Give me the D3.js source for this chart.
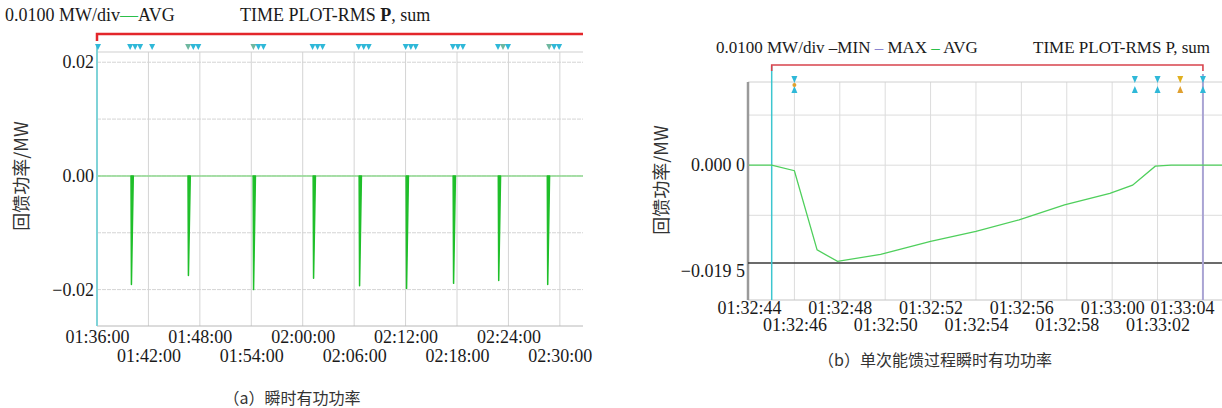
<!DOCTYPE html>
<html>
<head>
<meta charset="utf-8">
<script src="https://cdn.jsdelivr.net/npm/d3@7"></script>
<style>
  body { margin: 0; background: #fff; }
  svg { display: block; }
  .lat { font-family: "Liberation Serif", "DejaVu Serif", serif; fill: #1a1a1a; }
  .cjk { font-family: "Noto Sans CJK SC", sans-serif; fill: #333; }
</style>
</head>
<body>
<svg id="chart" width="1222" height="408"></svg>
<script>
/* global d3 */

// ---------- datos grafico (a) ----------
var ticksA = ["01:36:00","01:42:00","01:48:00","01:54:00","02:00:00","02:06:00","02:12:00","02:18:00","02:24:00","02:30:00"];
var yTicksA = [0.02, 0, -0.02];
var yGridA = [0.02, 0.01, 0, -0.01, -0.02];
var spikeTimesA = ["01:39:58","01:46:37","01:54:13","02:01:13","02:06:35","02:12:04","02:17:33","02:22:49","02:28:32"];
var spikeMinA = [-0.0191, -0.0175, -0.0200, -0.0180, -0.0193, -0.0198, -0.0189, -0.0184, -0.0191];
var markTimesA = ["01:36:07","01:39:52","01:40:27","01:41:02","01:42:26","01:46:38","01:47:14","01:47:49",
                  "01:54:15","01:54:50","01:55:25","02:01:09","02:01:44","02:02:19","02:06:32","02:07:07","02:07:42",
                  "02:12:01","02:12:37","02:13:11","02:17:31","02:18:06","02:18:41","02:22:47","02:23:22","02:23:57",
                  "02:28:45","02:29:20","02:29:55"];
var markKindA = ["c","c","c","c","c","o","c","c","o","c","c","c","c","c","c","c","c",
                 "c","c","c","c","c","c","c","o","c","o","c","c"];

// ---------- datos grafico (b) (segundos despues de 01:32:00) ----------
var ticksB = [44, 46, 48, 50, 52, 54, 56, 58, 60, 62, 64];
var curveSecB = [44, 45, 46, 47, 47.9, 49.8, 52.0, 54.0, 55.9, 57.9, 59.9, 60.9, 61.9, 62.6, 64.84];
var curveValB = [0, 0, -0.0011, -0.0169, -0.0192, -0.0178, -0.0152, -0.0132, -0.0109, -0.0079, -0.0056, -0.0040, -0.0002, 0, 0];
var minValB = -0.0195;
var yGridB = [0.01, 0, -0.01];
var cursorSecB = 45;
var endSecB = 64;
var markSecB = [46, 61, 62, 63, 64];
var markKindB = ["mix", "c", "c", "o", "c"];

var svg = d3.select("#chart");
svg.append("rect").attr("width", 1222).attr("height", 408).attr("fill", "#fff");

var parseT = d3.utcParse("%H:%M:%S");
var fmtT = d3.utcFormat("%H:%M:%S");
var baseB = parseT("01:32:00");
function secB(s) { return new Date(baseB.getTime() + s * 1000); }
function fmtY(v, dec) {
  var s = Math.abs(v).toFixed(dec);
  return (v < 0 ? "\u2212" : "") + s;
}
var colCyan = "#2fb8d8", colOrange = "#e0a040";

/******************************* GRAFICO (a) *******************************/
var xA = d3.scaleUtc().domain([parseT("01:36:00"), parseT("02:32:42")]).range([97, 583]);
var yA = d3.scaleLinear().domain([-0.0264, 0.0218]).range([326, 52]);
var gA = svg.append("g");

// rejilla
gA.selectAll(".vg").data(ticksA.slice(1)).enter().append("line")
  .attr("x1", function (d) { return xA(parseT(d)); }).attr("x2", function (d) { return xA(parseT(d)); })
  .attr("y1", 52).attr("y2", 326).attr("stroke", "#d4d4d4").attr("stroke-width", 1);
gA.selectAll(".hg").data(yGridA).enter().append("line")
  .attr("x1", 97).attr("x2", 583)
  .attr("y1", function (d) { return yA(d); }).attr("y2", function (d) { return yA(d); })
  .attr("stroke", "#d4d4d4").attr("stroke-width", 1).attr("stroke-dasharray", "4,1");
gA.append("line").attr("x1", 97).attr("x2", 583).attr("y1", 52).attr("y2", 52).attr("stroke", "#cfcfcf");
gA.append("line").attr("x1", 97).attr("x2", 583).attr("y1", 326).attr("y2", 326).attr("stroke", "#b8b8b8");

// linea AVG en cero
gA.append("line").attr("x1", 97).attr("x2", 583).attr("y1", yA(0)).attr("y2", yA(0))
  .attr("stroke", "#8fd98f").attr("stroke-width", 1.5);

// eje izquierdo (cian)
gA.append("line").attr("x1", 97).attr("x2", 97).attr("y1", 44).attr("y2", 326)
  .attr("stroke", "#7fd3d8").attr("stroke-width", 2);

// picos de energia devuelta
spikeTimesA.forEach(function (t, i) {
  var t0 = parseT(t);
  var pts = [[t0, 0], [new Date(t0.getTime() + 3000), spikeMinA[i]], [new Date(t0.getTime() + 16000), 0]];
  gA.append("path")
    .attr("d", d3.line().x(function (p) { return xA(p[0]); }).y(function (p) { return yA(p[1]); })(pts) + "Z")
    .attr("fill", "#1fbf2a").attr("stroke", "#1fbf2a").attr("stroke-width", 1.5).attr("stroke-linejoin", "round");
});

// barra roja
gA.append("path").attr("d", "M97,41V34H583").attr("fill", "none").attr("stroke", "#e3262b").attr("stroke-width", 2.5);

// marcadores
gA.selectAll(".mk").data(markTimesA).enter().append("path")
  .attr("transform", function (d) { return "translate(" + xA(parseT(d)) + ",47)"; })
  .attr("d", "M-3,-3L3,-3L0,3Z")
  .attr("fill", function (d, i) { return markKindA[i] === "o" ? "#6fb8a0" : colCyan; });

// etiquetas eje x
var axA = gA.append("g").attr("transform", "translate(0,326)")
  .call(d3.axisBottom(xA).tickValues(ticksA.map(parseT)).tickSize(0).tickFormat(fmtT));
axA.select(".domain").remove();
axA.selectAll("text").attr("class", "lat").style("font-size", "18px")
  .attr("y", function (d, i) { return i % 2 === 0 ? 4 : 23; }).attr("dy", "0.71em");

// etiquetas eje y
var ayA = gA.append("g").attr("transform", "translate(97,0)")
  .call(d3.axisLeft(yA).tickValues(yTicksA).tickSize(0).tickPadding(3).tickFormat(function (d) { return fmtY(d, 2); }));
ayA.select(".domain").remove();
ayA.selectAll("text").attr("class", "lat").style("font-size", "18px");

// titulos
var tA = gA.append("text").attr("class", "lat").attr("x", 5).attr("y", 21).style("font-size", "18px");
tA.append("tspan").text("0.0100 MW/div");
tA.append("tspan").style("fill", "#2bbf4a").text("\u2014");
tA.append("tspan").text("AVG");
var tA2 = gA.append("text").attr("class", "lat").attr("x", 240).attr("y", 21).style("font-size", "18px");
tA2.append("tspan").text("TIME PLOT-RMS ");
tA2.append("tspan").style("font-weight", "bold").text("P");
tA2.append("tspan").text(", sum");

gA.append("text").attr("class", "cjk").attr("transform", "translate(28,176) rotate(-90)")
  .attr("text-anchor", "middle").style("font-size", "18px").text("回馈功率/MW");
gA.append("text").attr("class", "cjk").attr("x", 292).attr("y", 404)
  .attr("text-anchor", "middle").style("font-size", "16px").text("（a）瞬时有功功率");

/******************************* GRAFICO (b) *******************************/
var xB = d3.scaleUtc().domain([secB(44), secB(64.84)]).range([749, 1222]);
var yB = d3.scaleLinear().domain([-0.0269, 0.0166]).range([300, 82]);
var gB = svg.append("g");

// rejilla
gB.selectAll(".vg").data(ticksB.slice(1, -1)).enter().append("line")
  .attr("x1", function (d) { return xB(secB(d)); }).attr("x2", function (d) { return xB(secB(d)); })
  .attr("y1", 82).attr("y2", 300).attr("stroke", "#dcdcdc");
gB.selectAll(".hg").data(yGridB).enter().append("line")
  .attr("x1", 748).attr("x2", 1222)
  .attr("y1", function (d) { return yB(d); }).attr("y2", function (d) { return yB(d); })
  .attr("stroke", "#dcdcdc");
gB.append("line").attr("x1", 748).attr("x2", 1222).attr("y1", 82).attr("y2", 82).attr("stroke", "#d0d0d0");
gB.append("line").attr("x1", 748).attr("x2", 1222).attr("y1", 300).attr("y2", 300).attr("stroke", "#c4c4c4");

// borde izquierdo
gB.append("line").attr("x1", 748).attr("x2", 748).attr("y1", 82).attr("y2", 300)
  .attr("stroke", "#9a9a9a").attr("stroke-width", 2.5);

// linea MIN
gB.append("line").attr("x1", 748).attr("x2", 1222).attr("y1", yB(minValB)).attr("y2", yB(minValB))
  .attr("stroke", "#3a3a3a").attr("stroke-width", 1.5);

// cursores
gB.append("line").attr("x1", xB(secB(cursorSecB))).attr("x2", xB(secB(cursorSecB)))
  .attr("y1", 66).attr("y2", 300).attr("stroke", "#3cc6cf").attr("stroke-width", 1.5);
gB.append("line").attr("x1", xB(secB(endSecB))).attr("x2", xB(secB(endSecB)))
  .attr("y1", 74).attr("y2", 300).attr("stroke", "#aaa4d4").attr("stroke-width", 2);

// curva AVG
gB.append("path")
  .datum(curveSecB.map(function (s, i) { return [secB(s), curveValB[i]]; }))
  .attr("d", d3.line().x(function (p) { return xB(p[0]); }).y(function (p) { return yB(p[1]); }))
  .attr("fill", "none").attr("stroke", "#4fcf5c").attr("stroke-width", 1.3);

// barra roja
var xr0 = xB(secB(cursorSecB)), xr1 = xB(secB(endSecB));
gB.append("path").attr("d", "M" + xr0 + ",71V65H" + xr1 + "V71")
  .attr("fill", "none").attr("stroke", "#d8434c").attr("stroke-width", 1.6);

// marcadores (reloj de arena)
markSecB.forEach(function (s, i) {
  var x = xB(secB(s)), k = markKindB[i];
  var top = k === "o" ? "#e0b020" : colCyan;
  var bot = k === "c" ? colCyan : "#e0a030";
  gB.append("path").attr("d", "M" + (x - 3) + ",76L" + (x + 3) + ",76L" + x + ",83Z").attr("fill", top);
  gB.append("path").attr("d", "M" + (x - 3) + ",93L" + (x + 3) + ",93L" + x + ",86Z").attr("fill", k === "mix" ? colCyan : bot);
  if (k === "mix") gB.append("circle").attr("cx", x).attr("cy", 85).attr("r", 2).attr("fill", "#e0a030");
});

// etiquetas eje x
var axB = gB.append("g").attr("transform", "translate(0,300)")
  .call(d3.axisBottom(xB).tickValues(ticksB.map(secB)).tickSize(0).tickFormat(fmtT));
axB.select(".domain").remove();
axB.selectAll("text").attr("class", "lat").style("font-size", "18px")
  .attr("y", function (d, i) { return i % 2 === 0 ? 1 : 18; }).attr("dy", "0.71em")
  .attr("x", function (d, i) { return i === ticksB.length - 1 ? -21 : 0; });

// etiquetas eje y
gB.append("text").attr("class", "lat").attr("x", 745).attr("y", yB(0)).attr("dy", "0.35em")
  .attr("text-anchor", "end").style("font-size", "18px").text("0.000 0");
gB.append("text").attr("class", "lat").attr("x", 745).attr("y", yB(minValB) + 8).attr("dy", "0.35em")
  .attr("text-anchor", "end").style("font-size", "18px").text("\u22120.019 5");

// titulo y leyenda
var tB = gB.append("text").attr("class", "lat").attr("x", 716).attr("y", 53).style("font-size", "17px");
tB.append("tspan").text("0.0100 MW/div");
tB.append("tspan").style("fill", "#222").text(" \u2013");
tB.append("tspan").text("MIN ");
tB.append("tspan").style("fill", "#8a84d0").text("\u2013 ");
tB.append("tspan").text("MAX ");
tB.append("tspan").style("fill", "#2bbf4a").text("\u2013 ");
tB.append("tspan").text("AVG");
gB.append("text").attr("class", "lat").attr("x", 1210).attr("y", 53).attr("text-anchor", "end")
  .style("font-size", "17px").text("TIME PLOT-RMS P, sum");

gB.append("text").attr("class", "cjk").attr("transform", "translate(668,180) rotate(-90)")
  .attr("text-anchor", "middle").style("font-size", "18px").text("回馈功率/MW");
gB.append("text").attr("class", "cjk").attr("x", 935).attr("y", 366)
  .attr("text-anchor", "middle").style("font-size", "16px").text("（b）单次能馈过程瞬时有功功率");
</script>
</body>
</html>
